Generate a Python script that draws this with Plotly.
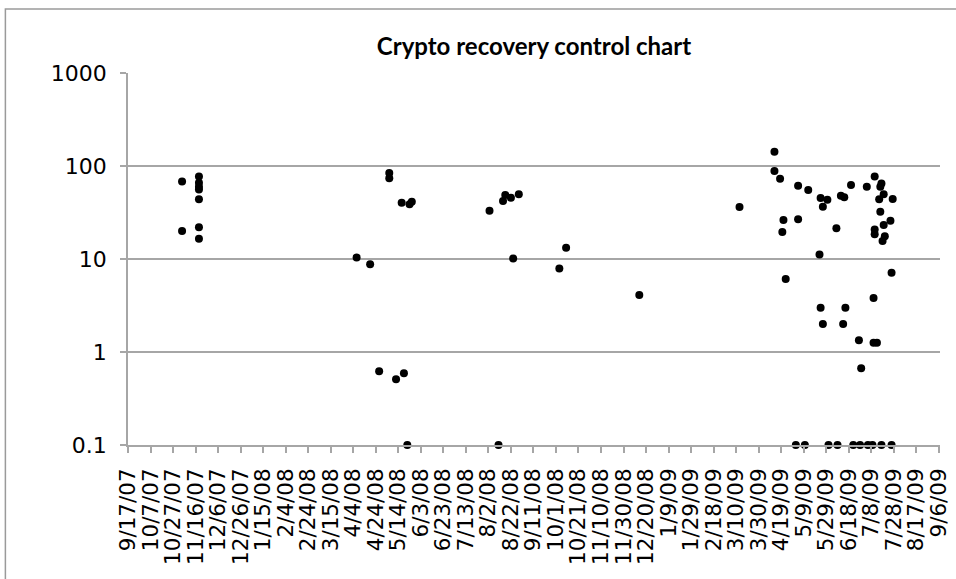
import plotly.graph_objects as go

# Data (date, recovery value)
dates = [
    "2007-11-04", "2007-11-04",
    "2007-11-19", "2007-11-19", "2007-11-19", "2007-11-19", "2007-11-19", "2007-11-19", "2007-11-19",
    "2008-04-07", "2008-04-19", "2008-04-27", "2008-05-06", "2008-05-06", "2008-05-12",
    "2008-05-17", "2008-05-19", "2008-05-22", "2008-05-24", "2008-05-26",
    "2008-08-03", "2008-08-11", "2008-08-15", "2008-08-17", "2008-08-22", "2008-08-24", "2008-08-29",
    "2008-10-04", "2008-10-10", "2008-12-14", "2009-03-13",
    "2009-04-13", "2009-04-13", "2009-04-18", "2009-04-20", "2009-04-21", "2009-04-23",
    "2009-05-02", "2009-05-04", "2009-05-04", "2009-05-10", "2009-05-13",
    "2009-05-23", "2009-05-24", "2009-05-24", "2009-05-26", "2009-05-26",
    "2009-05-30", "2009-05-31", "2009-06-07", "2009-06-08", "2009-06-11",
    "2009-06-13", "2009-06-14", "2009-06-15", "2009-06-20", "2009-06-22",
    "2009-06-27", "2009-06-28", "2009-06-29", "2009-07-04", "2009-07-05",
    "2009-07-09", "2009-07-10", "2009-07-10", "2009-07-11", "2009-07-11", "2009-07-11",
    "2009-07-13", "2009-07-15", "2009-07-16", "2009-07-16", "2009-07-17", "2009-07-17",
    "2009-07-18", "2009-07-19", "2009-07-19", "2009-07-20", "2009-07-25",
    "2009-07-26", "2009-07-26", "2009-07-27",
]
values = [
    68, 20,
    77, 66, 60, 56, 44, 22, 16.5,
    10.4, 8.8, 0.62, 84, 74, 0.51,
    40.3, 0.59, 0.1, 38.7, 41.3,
    33, 0.1, 42, 48.8, 45.7, 10.1, 49.7,
    7.9, 13.2, 4.1, 36.3,
    142, 88.5, 73, 19.5, 26.2, 6.1,
    0.1, 61.5, 26.7, 0.1, 55.3,
    11.2, 45.3, 3.0, 36.5, 2.0,
    43.4, 0.1, 21.4, 0.1, 48,
    2.0, 46.1, 3.0, 62.5, 0.1,
    1.34, 0.1, 0.67, 60, 0.1,
    0.1, 3.8, 1.26, 77, 20.8, 18.5,
    1.26, 43.9, 32.3, 60, 65, 0.1,
    15.6, 49.7, 23.2, 17.6, 25.8,
    7.1, 0.1, 44.2,
]

tick_dates = [
    "2007-09-17", "2007-10-07", "2007-10-27", "2007-11-16", "2007-12-06", "2007-12-26",
    "2008-01-15", "2008-02-04", "2008-02-24", "2008-03-15", "2008-04-04", "2008-04-24",
    "2008-05-14", "2008-06-03", "2008-06-23", "2008-07-13", "2008-08-02", "2008-08-22",
    "2008-09-11", "2008-10-01", "2008-10-21", "2008-11-10", "2008-11-30", "2008-12-20",
    "2009-01-09", "2009-01-29", "2009-02-18", "2009-03-10", "2009-03-30", "2009-04-19",
    "2009-05-09", "2009-05-29", "2009-06-18", "2009-07-08", "2009-07-28", "2009-08-17",
    "2009-09-06",
]
tick_labels = [
    "9/17/07", "10/7/07", "10/27/07", "11/16/07", "12/6/07", "12/26/07",
    "1/15/08", "2/4/08", "2/24/08", "3/15/08", "4/4/08", "4/24/08",
    "5/14/08", "6/3/08", "6/23/08", "7/13/08", "8/2/08", "8/22/08",
    "9/11/08", "10/1/08", "10/21/08", "11/10/08", "11/30/08", "12/20/08",
    "1/9/09", "1/29/09", "2/18/09", "3/10/09", "3/30/09", "4/19/09",
    "5/9/09", "5/29/09", "6/18/09", "7/8/09", "7/28/09", "8/17/09",
    "9/6/09",
]
y_ticks = [0.1, 1, 10, 100, 1000]
y_labels = ["0.1", "1", "10", "100", "1000"]

fig = go.Figure()
fig.add_trace(go.Scatter(
    x=dates, y=values, mode="markers",
    marker=dict(color="black", size=8, line=dict(width=0)),
    showlegend=False, cliponaxis=False,
))

grid = "#a6a6a6"
fig.update_layout(
    width=956, height=579,
    margin=dict(l=128, r=16, t=73, b=134),
    paper_bgcolor="white", plot_bgcolor="white",
    title=dict(text="<b>Crypto recovery control chart</b>", x=0.5, xref="paper",
               y=0.92, yref="container", xanchor="center", yanchor="middle",
               font=dict(family="Lato", size=24, color="black")),
    font=dict(family="DejaVu Sans", color="black"),
    xaxis=dict(
        type="date", range=["2007-09-17", "2009-09-07"],
        tickmode="array", tickvals=tick_dates, ticktext=tick_labels,
        tickangle=-90, tickfont=dict(size=21.5, family="DejaVu Sans", color="black"),
        ticklabelstandoff=7,
        showgrid=False, showline=True, linecolor=grid, linewidth=1.5,
        ticks="outside", ticklen=6, tickcolor=grid, tickwidth=1.5,
        zeroline=False, automargin=False,
    ),
    yaxis=dict(
        type="log", range=[-1, 3],
        tickmode="array", tickvals=y_ticks, ticktext=y_labels,
        tickfont=dict(size=22, family="DejaVu Sans", color="black"),
        ticklabelstandoff=9,
        showgrid=True, gridcolor=grid, gridwidth=1.5,
        showline=True, linecolor=grid, linewidth=1.5,
        ticks="outside", ticklen=6, tickcolor=grid, tickwidth=1.5,
        zeroline=False, automargin=False,
    ),
    shapes=[dict(type="rect", xref="paper", yref="paper",
                 x0=-0.151, y0=-0.6, x1=1.2, y1=1.172,
                 line=dict(color="#9a9a9a", width=1.5), layer="above")],
)

fig.write_html("out.html", config={"displayModeBar": False},
               post_script="document.body.style.margin='0';document.body.style.overflow='hidden';")
